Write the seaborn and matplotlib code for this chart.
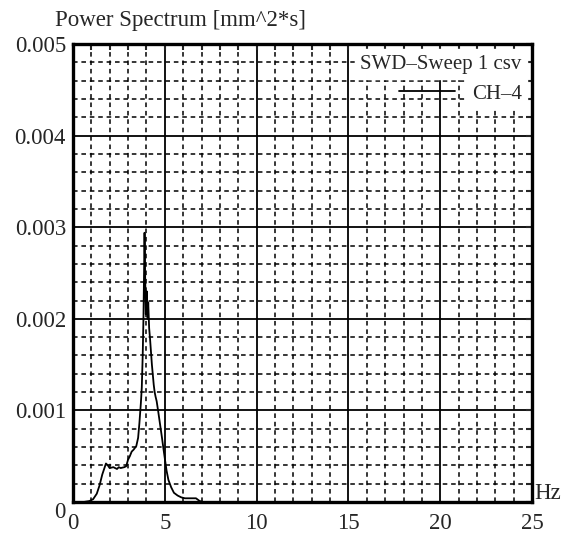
import numpy as np
import pandas as pd
import seaborn as sns
import matplotlib.pyplot as plt

# Giá trị (Hz, mm^2*s)
freq = [0.0, 0.6, 0.9, 1.1, 1.3, 1.45, 1.6, 1.7, 1.8, 1.9, 2.0, 2.2, 2.4, 2.5, 2.6,
        2.8, 2.9, 3.0, 3.1, 3.2, 3.3, 3.45, 3.55, 3.62, 3.7, 3.75, 3.8, 3.84, 3.88,
        3.9, 3.93, 3.97, 4.02, 4.07, 4.1, 4.15, 4.2, 4.3, 4.4, 4.45, 4.5, 4.56, 4.65,
        4.75, 4.85, 4.93, 5.0, 5.1, 5.2, 5.35, 5.5, 5.7, 5.9, 6.1, 6.3, 6.5, 6.7,
        6.9, 7.1, 8.0]
power = [0.0, 0.0, 0.00001, 0.00003, 0.00009, 0.00018, 0.00030, 0.00036, 0.00042,
         0.00040, 0.00037, 0.00038, 0.00036, 0.00038, 0.00037, 0.00038, 0.00039,
         0.00046, 0.00050, 0.00055, 0.00057, 0.00061, 0.00070, 0.00086, 0.00108,
         0.00125, 0.00160, 0.00200, 0.00260, 0.00294, 0.00250, 0.00205, 0.00230,
         0.00200, 0.00218, 0.00190, 0.00178, 0.00150, 0.00128, 0.00120, 0.00115,
         0.00110, 0.00098, 0.00084, 0.00070, 0.00058, 0.00048, 0.00034, 0.00024,
         0.00016, 0.00010, 0.00007, 0.00005, 0.00004, 0.00004, 0.00004, 0.00004,
         0.00001, 0.0, 0.0]

xticks = [0, 5, 10, 15, 20, 25]
xticklabels = ['0', '5', '10', '15', '20', '25']
yticks = [0, 0.001, 0.002, 0.003, 0.004, 0.005]
yticklabels = ['0', '0.001', '0.002', '0.003', '0.004', '0.005']

data = pd.DataFrame({'Hz': freq, 'power': power})

def plot_spectrum():
    sns.set_style('white')
    plt.rcParams['font.family'] = ['Liberation Serif', 'DejaVu Serif']

    fig = plt.figure(figsize=(5.65, 5.38), dpi=100)
    ax = fig.add_axes([0.129, 0.067, 0.813, 0.851])

    sns.lineplot(data=data, x='Hz', y='power', color='black', linewidth=1.3,
                 label='CH\u20134', ax=ax)

    ax.set_xlim(0, 25)
    ax.set_ylim(0, 0.005)
    ax.set_xticks(xticks, xticklabels)
    ax.set_yticks(yticks, yticklabels)
    ax.set_xticks(np.arange(0, 26, 1), minor=True)
    ax.set_yticks(np.arange(0, 0.0051, 0.0002), minor=True)

    ax.grid(which='major', color='black', linewidth=1.3, linestyle='-')
    ax.grid(which='minor', color='black', linewidth=1.1, linestyle=(0, (3, 2.5)))
    ax.set_axisbelow(True)
    for s in ax.spines.values():
        s.set_linewidth(2.4)
        s.set_color('black')
    ax.tick_params(which='both', direction='in', length=4, width=1.5,
                   labelsize=16.5, pad=5, top=True, right=True)
    ax.tick_params(axis='x', which='major', pad=8)
    ax.get_yticklabels()[0].set_va('top')

    ax.set_xlabel('')
    ax.set_ylabel('')
    fig.text(0.097, 0.962, 'Power Spectrum [mm^2*s]', fontsize=16.5,
             va='center', ha='left')
    fig.text(0.946, 0.083, 'Hz', fontsize=16.5, va='center', ha='left')

    leg = ax.legend(title='SWD\u2013Sweep 1 csv', loc='upper right', frameon=False,
                    fontsize=15, title_fontsize=15, handlelength=2.7,
                    borderaxespad=0.2, borderpad=0.3, alignment='right')
    leg.get_title().set_backgroundcolor('white')
    for t in leg.get_texts():
        t.set_backgroundcolor('white')

    plt.savefig('out.png', dpi=100)

if __name__ == "__main__":
    plot_spectrum()
